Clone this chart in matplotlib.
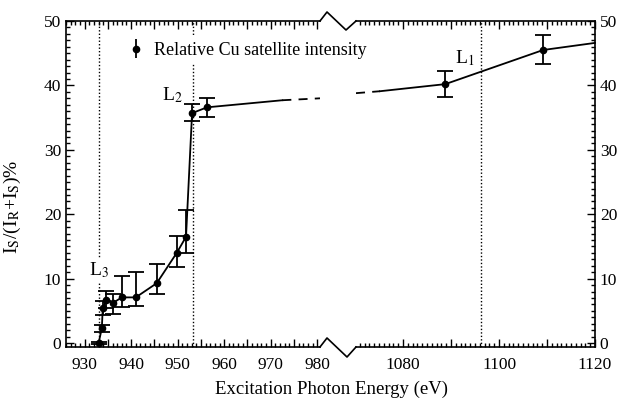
import numpy as np
import matplotlib
matplotlib.use('Agg')
import matplotlib.pyplot as plt
from matplotlib.lines import Line2D
from matplotlib.ticker import MultipleLocator, FuncFormatter

plt.rcParams['font.family'] = ['Liberation Serif', 'DejaVu Serif']
plt.rcParams['mathtext.fontset'] = 'stix'

# measured points near L3/L2 edges
energy_lo = [933.0, 933.7, 933.9, 934.7, 936.0, 938.0, 941.0, 945.5, 949.8, 951.8, 953.1, 956.3]
ratio_lo = [0.0, 2.3, 5.4, 6.7, 6.2, 7.1, 7.1, 9.3, 14.0, 16.5, 35.7, 36.6]
err_up_lo = [0.2, 0.5, 1.2, 1.4, 1.4, 3.3, 4.0, 3.0, 2.6, 4.2, 1.4, 1.4]
err_dn_lo = [0.2, 0.5, 1.1, 1.3, 1.7, 1.5, 1.3, 1.6, 2.2, 2.5, 1.2, 1.5]

# measured points near L1 edge
energy_hi = [1088.8, 1109.2]
ratio_hi = [40.2, 45.5]
err_up_hi = [2.1, 2.3]
err_dn_hi = [2.0, 2.2]

# guide line across the axis break
bridge_lo_solid_x = [956.3, 972.5]
bridge_lo_solid_y = [36.6, 37.7]
bridge_lo_dash_x = [972.5, 980.6]
bridge_lo_dash_y = [37.7, 38.0]
bridge_hi_dash_x = [1070.2, 1075.2]
bridge_hi_dash_y = [38.8, 39.1]
bridge_hi_solid_x = [1075.2, 1088.8]
bridge_hi_solid_y = [39.1, 40.2]
tail_x = [1109.2, 1120.0]
tail_y = [45.5, 46.6]

# absorption edges
edge_names = ['L$_3$', 'L$_2$', 'L$_1$']
edge_energy = [933.0, 953.3, 1096.3]
edge_label_x = [931.0, 946.6, 1090.8]
edge_label_y = [11.3, 38.5, 44.3]

W, H = 628, 407
fig = plt.figure(figsize=(W / 100, H / 100), dpi=100)

def px_box(x0, x1, y0, y1):
    return [x0 / W, 1 - y1 / H, (x1 - x0) / W, (y1 - y0) / H]

ax1 = fig.add_axes(px_box(66, 320, 21, 347))
ax2 = fig.add_axes(px_box(356, 595, 21, 347))
ax2.patch.set_visible(False)
ax1.set_zorder(ax2.get_zorder() + 1)

ax1.set_xlim(926.0, 980.6)
ax2.set_xlim(1070.2, 1120)
for ax in (ax1, ax2):
    ax.set_ylim(-0.6, 50)
    ax.yaxis.set_major_locator(MultipleLocator(10))
    ax.yaxis.set_minor_locator(MultipleLocator(1))
    ax.xaxis.set_minor_locator(MultipleLocator(1))
    ax.tick_params(which='both', direction='in', top=True, labelsize=12.5, width=1)
    ax.tick_params(which='major', length=6)
    ax.tick_params(which='minor', length=3)
    ax.tick_params(axis='x', pad=7)
    for s in ax.spines.values():
        s.set_linewidth(1.2)

ax1.xaxis.set_major_locator(MultipleLocator(5))
ax1.xaxis.set_major_formatter(FuncFormatter(lambda v, p: f'{v:.0f}' if round(v) % 10 == 0 else ''))
ax2.xaxis.set_major_locator(MultipleLocator(10))
ax2.xaxis.set_major_formatter(FuncFormatter(lambda v, p: f'{v:.0f}' if round(v) % 20 == 0 else ''))

ax1.spines['right'].set_visible(False)
ax2.spines['left'].set_visible(False)
ax1.tick_params(axis='y', which='both', left=True, right=False)
ax2.tick_params(axis='y', which='both', left=False, right=True, labelleft=False, labelright=True)

style = dict(fmt='o', color='black', ms=4.5, capsize=5.5, elinewidth=1.3, capthick=1.3, zorder=4)
ax1.errorbar(energy_lo, ratio_lo, yerr=[err_dn_lo, err_up_lo], **style)
ax1.plot(energy_lo, ratio_lo, color='black', lw=1.3, zorder=3)
ax1.plot(bridge_lo_solid_x, bridge_lo_solid_y, color='black', lw=1.3)
ax1.plot(bridge_lo_dash_x, bridge_lo_dash_y, color='black', lw=1.3, ls=(0, (5, 4)))

ax2.errorbar(energy_hi, ratio_hi, yerr=[err_dn_hi, err_up_hi], **style)
ax2.plot(energy_hi, ratio_hi, color='black', lw=1.3, zorder=3)
ax2.plot(bridge_hi_dash_x, bridge_hi_dash_y, color='black', lw=1.3, ls=(0, (5, 4)))
ax2.plot(bridge_hi_solid_x, bridge_hi_solid_y, color='black', lw=1.3)
ax2.plot(tail_x, tail_y, color='black', lw=1.3, clip_on=False)

for name, e, lx, ly in zip(edge_names, edge_energy, edge_label_x, edge_label_y):
    ax = ax1 if e < 1000 else ax2
    ax.axvline(e, color='black', lw=1.0, ls=(0, (1, 1.5)), zorder=1)
    ax.text(lx, ly, name, fontsize=14, ha='left', va='center', zorder=2,
            bbox=dict(facecolor='white', edgecolor='none', pad=1.5))

proxy = ax1.errorbar([np.nan], [np.nan], yerr=[1], fmt='o', color='black', ms=4.5,
                     capsize=0, elinewidth=1.3)
leg = ax1.legend([proxy], ['Relative Cu satellite intensity'], loc='center left',
                 bbox_to_anchor=(0.19, 0.91), fontsize=13, handlelength=0.8,
                 handletextpad=0.6, borderpad=0.3, frameon=True, fancybox=False)
leg.get_frame().set_edgecolor('none')
leg.get_frame().set_facecolor('white')
leg.get_frame().set_alpha(1)
leg.set_zorder(5)

ax1.set_ylabel(r'I$_\mathrm{S}$/(I$_\mathrm{R}$+I$_\mathrm{S}$)%', fontsize=14)
ax1.yaxis.set_label_coords(-0.17, 0.43)
fig.text(331 / W, 1 - 389 / H, 'Excitation Photon Energy (eV)', ha='center', va='center', fontsize=13.5)

# zigzag break marks
for pts in ([(320, 21), (327, 12), (346, 30), (356, 21)],
            [(320, 347), (327, 338), (347, 357), (356, 347)]):
    xs = [p[0] / W for p in pts]
    ys = [1 - p[1] / H for p in pts]
    fig.add_artist(Line2D(xs, ys, transform=fig.transFigure, color='black', lw=1.2))

fig.savefig('out.png', dpi=100)
